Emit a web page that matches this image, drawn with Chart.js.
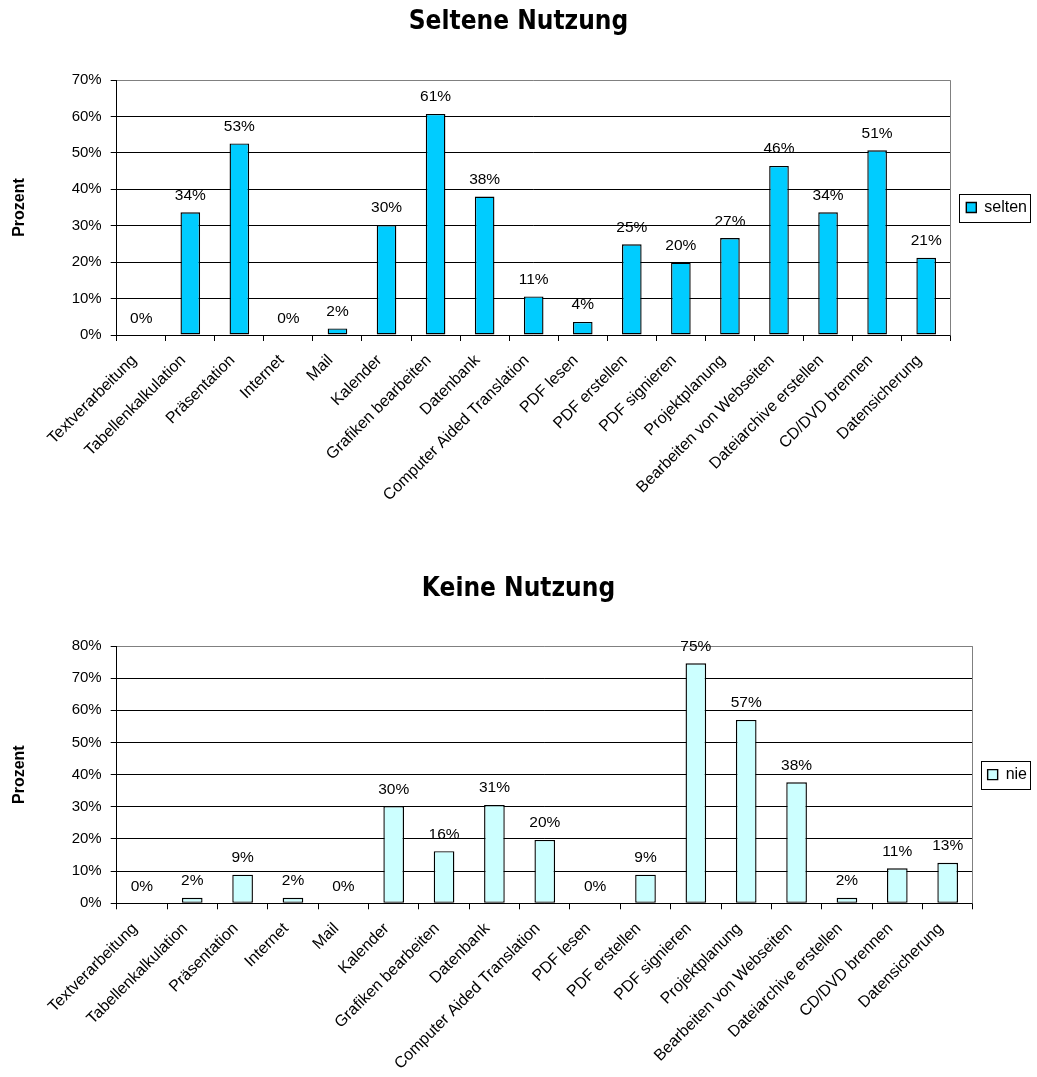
<!DOCTYPE html>
<html>
<head>
<meta charset="utf-8">
<title>Nutzung</title>
<script src="https://cdn.jsdelivr.net/npm/chart.js@4/dist/chart.umd.min.js"></script>
<style>
  body { margin: 0; background: #fff; }
  .chart-box { position: absolute; left: 0; width: 1037px; }
  #boxSelten { top: 0; height: 545px; }
  #boxNie { top: 560px; height: 517px; }
</style>
</head>
<body>
<div class="chart-box" id="boxSelten"><canvas id="chartSelten" width="1037" height="545"></canvas></div>
<div class="chart-box" id="boxNie"><canvas id="chartNie" width="1037" height="517"></canvas></div>
<script>
const categories = [
  'Textverarbeitung',
  'Tabellenkalkulation',
  'Präsentation',
  'Internet',
  'Mail',
  'Kalender',
  'Grafiken bearbeiten',
  'Datenbank',
  'Computer Aided Translation',
  'PDF lesen',
  'PDF erstellen',
  'PDF signieren',
  'Projektplanung',
  'Bearbeiten von Webseiten',
  'Dateiarchive erstellen',
  'CD/DVD brennen',
  'Datensicherung',
]

// Prozent "selten"
const seltenValues = [
  0, 33.7, 52.6, 0, 1.8, 30.2, 60.7, 38.0, 10.6, 3.6, 24.9, 19.9, 26.6, 46.4,
  33.7, 50.7, 21.2,
]

// Prozent "nie"
const nieValues = [
  0, 1.7, 8.9, 1.7, 0, 30.2, 16.2, 30.6, 19.7, 0, 8.9, 74.6, 57.0, 37.6, 1.7,
  10.9, 12.6,
]

const FONT = "'Liberation Sans', Arial, sans-serif"
const TITLE_FONT = "'DejaVu Sans Condensed', 'DejaVu Sans', sans-serif"

Chart.defaults.color = '#000'
Chart.defaults.font.family = FONT
Chart.defaults.font.size = 15

// Wert über jedem Balken
const barLabels = {
  id: 'barLabels',
  afterDatasetsDraw(chart) {
    const ctx = chart.ctx
    const values = chart.data.datasets[0].data
    ctx.save()
    ctx.font = '15.5px ' + FONT
    ctx.fillStyle = '#000'
    ctx.textAlign = 'center'
    ctx.textBaseline = 'alphabetic'
    chart.getDatasetMeta(0).data.forEach((bar, i) => {
      ctx.fillText(Math.round(values[i]) + '%', bar.x, bar.y - 12.5)
    })
    ctx.restore()
  },
}

// rechter Rand der Zeichenfläche und Rahmen um die Legende
const frames = {
  id: 'frames',
  afterDraw(chart) {
    const ctx = chart.ctx
    const area = chart.chartArea
    const x = Math.round(area.right - 0.5) + 0.5
    ctx.save()
    ctx.lineWidth = 1
    ctx.strokeStyle = '#808080'
    ctx.beginPath()
    ctx.moveTo(x, Math.round(area.top - 0.5) + 0.5)
    ctx.lineTo(x, Math.round(area.bottom - 0.5) + 0.5)
    ctx.stroke()

    const hb = chart.legend.legendHitBoxes[0]
    if (hb) {
      ctx.strokeStyle = '#000'
      ctx.strokeRect(
        Math.round(hb.left - 7) + 0.5,
        Math.round(hb.top - 6) + 0.5,
        Math.round(hb.width + 10),
        Math.round(hb.height + 12)
      )
    }
    ctx.restore()
  },
}

function makeChart(id, title, label, values, color, yMax, opt) {
  return new Chart(document.getElementById(id), {
    type: 'bar',
    data: {
      labels: categories,
      datasets: [
        {
          label: label,
          data: values,
          backgroundColor: color,
          borderColor: '#000',
          borderWidth: 1.4,
          borderSkipped: false,
          categoryPercentage: 1,
          barPercentage: opt.bar,
        },
      ],
    },
    options: {
      responsive: false,
      animation: false,
      layout: { padding: 0 },
      plugins: {
        title: {
          display: true,
          text: title,
          color: '#000',
          font: { family: TITLE_FONT, size: 26, weight: 'bold' },
          padding: { top: opt.titleTop, bottom: opt.titleBottom },
        },
        legend: {
          position: 'right',
          fullSize: false,
          labels: {
            boxWidth: 10,
            boxHeight: 10,
            padding: opt.legendPad,
            color: '#000',
            font: { size: 16 },
          },
        },
        tooltip: { enabled: false },
      },
      scales: {
        x: {
          grid: {
            drawOnChartArea: false,
            drawTicks: true,
            tickLength: 6,
            color: '#000',
          },
          border: { color: '#000' },
          ticks: {
            autoSkip: false,
            minRotation: 45,
            maxRotation: 45,
            padding: 10,
            labelOffset: -7,
            font: { size: 16 },
          },
          afterFit: (scale) => {
            scale.height = opt.xHeight
          },
        },
        y: {
          min: 0,
          max: yMax,
          ticks: {
            stepSize: 10,
            padding: 9,
            callback: (v) => v + '%',
          },
          grid: {
            color: (c) => (c.tick && c.tick.value === yMax ? '#808080' : '#000'),
            tickColor: '#000',
            tickLength: 6,
          },
          border: { color: '#000' },
          title: {
            display: true,
            text: 'Prozent',
            font: { size: 16, weight: 'bold' },
            padding: { top: 10, bottom: 0 },
          },
          afterFit: (scale) => {
            scale.width = 116.7
          },
        },
      },
    },
    plugins: [barLabels, frames],
  })
}

makeChart('chartSelten', 'Seltene Nutzung', 'selten', seltenValues, '#00CCFF', 70, {
  bar: 0.4,
  titleTop: 7,
  titleBottom: 41.8,
  legendPad: 15.6,
  xHeight: 210,
})

makeChart('chartNie', 'Keine Nutzung', 'nie', nieValues, '#CCFFFF', 80, {
  bar: 0.41,
  titleTop: 13.3,
  titleBottom: 41.5,
  legendPad: 14.8,
  xHeight: 173.7,
})
</script>
</body>
</html>
